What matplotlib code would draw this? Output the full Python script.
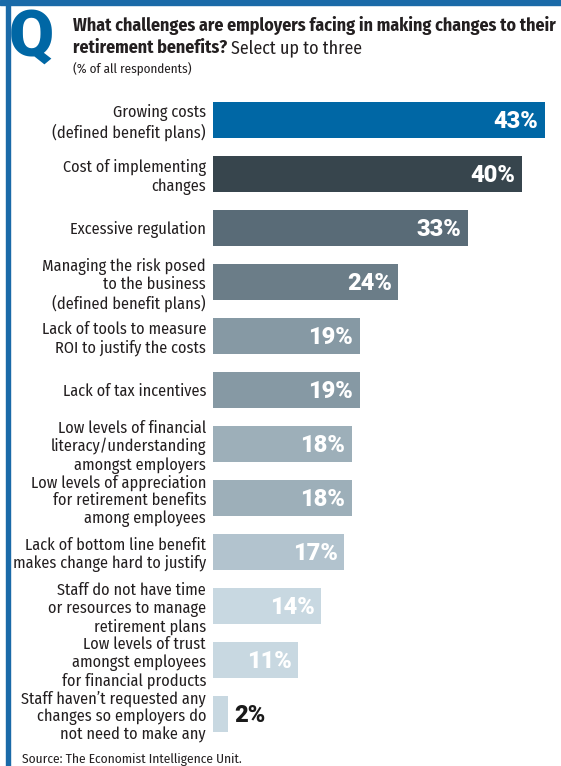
import matplotlib
matplotlib.use("Agg")
import matplotlib.pyplot as plt
from matplotlib.patches import Rectangle
from matplotlib import font_manager

# Survey answers, top to bottom
categories = [
    "Growing costs\n(defined benefit plans)",
    "Cost of implementing\nchanges",
    "Excessive regulation",
    "Managing the risk posed\nto the business\n(defined benefit plans)",
    "Lack of tools to measure\nROI to justify the costs",
    "Lack of tax incentives",
    "Low levels of financial\nliteracy/understanding\namongst employers",
    "Low levels of appreciation\nfor retirement benefits\namong employees",
    "Lack of bottom line benefit\nmakes change hard to justify",
    "Staff do not have time\nor resources to manage\nretirement plans",
    "Low levels of trust\namongst employees\nfor financial products",
    "Staff haven\u2019t requested any\nchanges so employers do\nnot need to make any",
]
values = [43, 40, 33, 24, 19, 19, 18, 18, 17, 14, 11, 2]
bar_colors = [
    "#0067a5", "#37454d", "#596b77", "#6b7d88", "#8699a4", "#8699a4",
    "#9dafb9", "#9dafb9", "#b2c3ce", "#c8d8e1", "#c8d8e1", "#c8d8e1",
]

installed = {f.name for f in font_manager.fontManager.ttflist}
label_font = ["Fira Sans Condensed", "DejaVu Sans"]
num_font = [f for f in ["Roboto", "Arimo", "DejaVu Sans"] if f in installed][:1] + ["DejaVu Sans"]
ink = "#231f20"

W, H = 561, 766
fig = plt.figure(figsize=(W / 100, H / 100), dpi=100)
fig.patch.set_facecolor("white")

frame_blue = "#1a6aa8"
# top band and left rule
fig.patches.append(Rectangle((0, 1 - 5 / H), 1, 5 / H, transform=fig.transFigure,
                             color=frame_blue, zorder=0))
fig.patches.append(Rectangle((6 / W, 0), 4 / W, 1, transform=fig.transFigure,
                             color=frame_blue, zorder=0))

# big Q marker
fig.text(9 / W, 1 - 56 / H, "Q", fontsize=47, fontweight=900, color="#0067a5",
         family=num_font, ha="left", va="baseline")

# bar area
left_px, right_px = 213, 545
top_px, step = 93, 54
n = len(values)
ax = fig.add_axes([left_px / W, 1 - (top_px + n * step) / H,
                   (right_px - left_px) / W, n * step / H])
ypos = list(range(n))
ax.barh(ypos, values, height=0.667, color=bar_colors)
ax.set_xlim(0, 43)
ax.set_ylim(n - 0.5, -0.5)
ax.set_yticks(ypos)
ax.set_yticklabels(categories, family=label_font, fontsize=11.7, color=ink,
                   linespacing=1.15)
ax.tick_params(axis="y", length=0, pad=5)
ax.set_xticks([])
for s in ax.spines.values():
    s.set_visible(False)

for y, v in zip(ypos, values):
    if v >= 5:
        ax.text(v - 0.85, y + 0.03, f"{v}%", ha="right", va="center", color="white",
                fontsize=17, fontweight=900, family=num_font)
    else:
        ax.text(v + 0.8, y + 0.03, f"{v}%", ha="left", va="center", color="#1a1a1a",
                fontsize=17, fontweight=900, family=num_font)

# heading
t1 = fig.text(73 / W, 1 - 31 / H,
              "What challenges are employers facing in making changes to their",
              fontsize=12.9, fontweight="bold", family=label_font, color=ink)
t2 = fig.text(73 / W, 1 - 53 / H, "retirement benefits?", fontsize=12.9,
              fontweight="bold", family=label_font, color=ink)
fig.canvas.draw()
bb = t2.get_window_extent()
fig.text((bb.x1 + 4) / W, 1 - 53 / H, "Select up to three", fontsize=12.9,
         family=label_font, color=ink)
fig.text(73 / W, 1 - 73 / H, "(% of all respondents)", fontsize=9.4,
         family=label_font, color=ink)

fig.text(22 / W, 1 - 763 / H, "Source: The Economist Intelligence Unit.", fontsize=9.6,
         family=label_font, color=ink)

fig.savefig("out.png", dpi=100, facecolor="white")
